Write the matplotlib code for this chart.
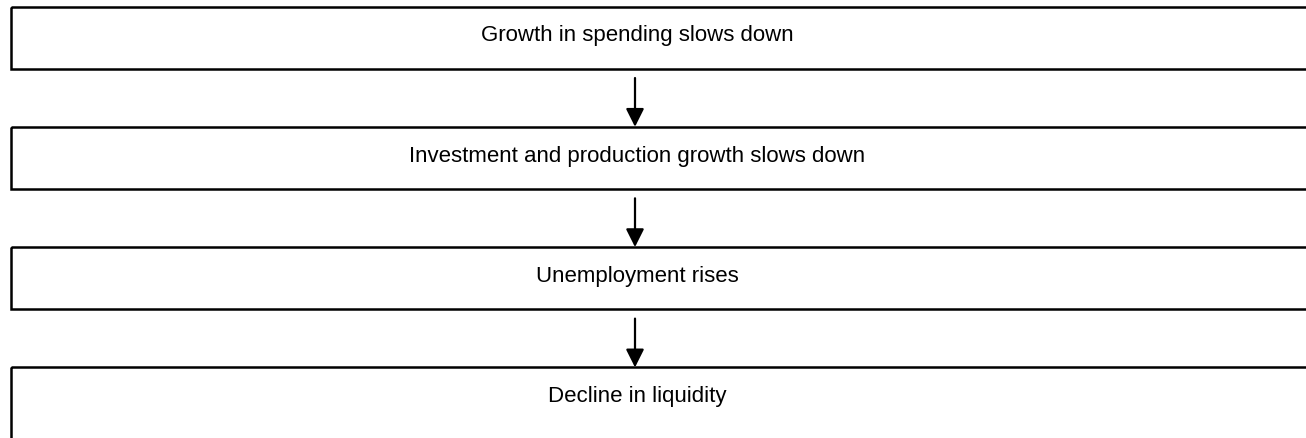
import matplotlib
matplotlib.use('Agg')
import matplotlib.pyplot as plt
from matplotlib.patches import Rectangle

steps = [
    'Growth in spending slows down',
    'Investment and production growth slows down',
    'Unemployment rises',
    'Decline in liquidity',
]

W, H = 1306, 439
box_left = 11.
box_right = 1330.      # boxes run off the right edge
box_top0 = 7.5
box_h = 62.
pitch = 120.3
text_x = 637.
arrow_x = 635.

fig = plt.figure(figsize=(W / 100., H / 100.), dpi=100)
ax = fig.add_axes([0, 0, 1, 1])
ax.set_xlim(0, W)
ax.set_ylim(H, 0)
ax.axis('off')

for i, label in enumerate(steps):
    top = box_top0 + i * pitch
    h = box_h if i < len(steps) - 1 else box_h + 40.   # last box is cut off at the bottom
    ax.add_patch(Rectangle((box_left, top), box_right - box_left, h,
                           fill=False, ec='black', lw=1.8))
    ax.text(text_x, top + 34., label, ha='center', va='baseline',
            fontsize=16, family='Liberation Sans', color='black')
    if i > 0:
        prev_bottom = top - pitch + box_h
        ax.annotate('', xy=(arrow_x, top), xytext=(arrow_x, prev_bottom + 9.5),
                    arrowprops=dict(arrowstyle='-|>,head_length=1.1,head_width=0.55',
                                    color='black', lw=1.6, shrinkA=0, shrinkB=0))

fig.savefig('out.png', dpi=100)
